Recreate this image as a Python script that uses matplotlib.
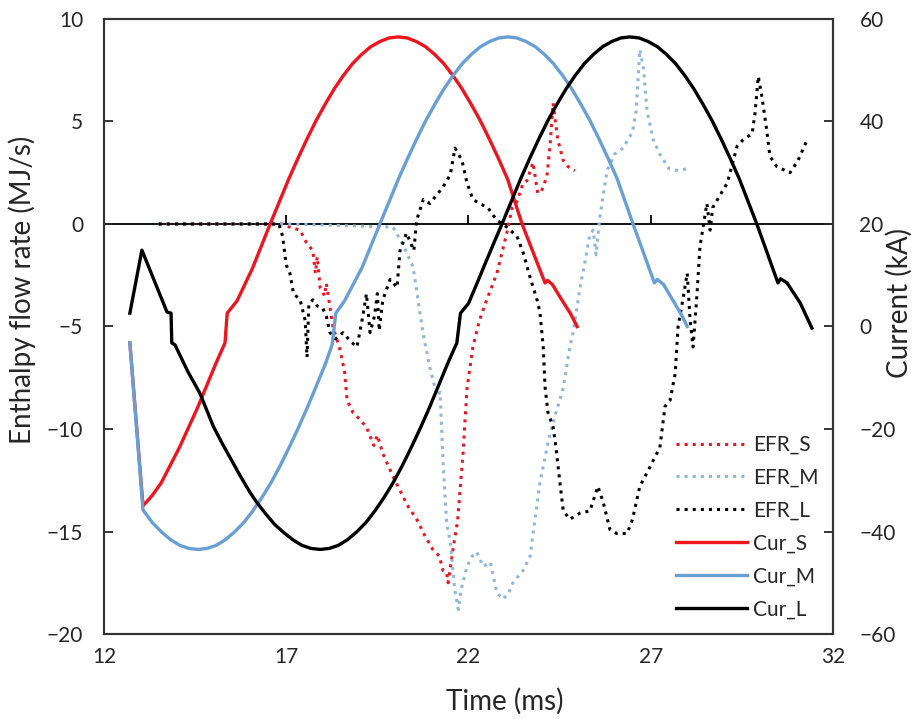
import numpy as np
import matplotlib
matplotlib.use("Agg")
import matplotlib.pyplot as plt

plt.rcParams['font.family'] = ['Lato', 'DejaVu Sans']

# current waveforms (time ms, current kA)
cur_s_t = [12.71, 13.07, 13.32, 13.57, 14.07, 14.57, 15.07, 15.32, 15.38, 15.65, 16.07, 16.57, 17.07, 17.32,
           17.57, 17.82, 18.07, 18.32, 18.57, 18.82, 19.07, 19.32, 19.57, 19.82, 20.07, 20.32, 20.57, 20.82,
           21.07, 21.32, 21.57, 21.82, 22.07, 22.32, 22.57, 22.82, 23.07, 23.47, 24.1, 24.17, 24.3, 24.55,
           24.8, 24.98]
cur_s_i = [-3.2, -35.0, -33.0, -30.5, -23.6, -15.8, -7.2, -3.2, 2.6, 5.0, 11.3, 20.2, 28.8, 32.8,
           36.6, 40.2, 43.4, 46.4, 49.0, 51.3, 53.1, 54.6, 55.6, 56.3, 56.5, 56.3, 55.6, 54.6,
           53.1, 51.3, 49.0, 46.4, 43.4, 40.2, 36.6, 32.8, 28.8, 20.0, 8.5, 9.0, 8.2, 5.3,
           2.5, 0.0]

cur_m_t = [12.71, 13.07, 13.33, 13.58, 13.83, 14.08, 14.33, 14.58, 14.83, 15.08, 15.33, 15.58, 15.83, 16.08,
           16.33, 16.58, 16.83, 17.08, 17.33, 17.58, 17.83, 18.08, 18.26, 18.36, 18.6, 19.08, 19.58, 20.08,
           20.33, 20.58, 20.83, 21.08, 21.33, 21.58, 21.83, 22.08, 22.33, 22.58, 22.83, 23.08, 23.33, 23.58,
           23.83, 24.08, 24.33, 24.58, 24.83, 25.08, 25.33, 25.58, 25.83, 26.08, 26.5, 27.1, 27.18, 27.35,
           27.6, 27.85, 28.0]
cur_m_i = [-3.2, -35.8, -38.3, -40.1, -41.6, -42.7, -43.3, -43.5, -43.3, -42.7, -41.6, -40.1, -38.3, -36.0,
           -33.4, -30.5, -27.2, -23.6, -19.8, -15.8, -11.5, -7.2, -3.5, 2.6, 5.0, 11.5, 20.2, 28.8,
           32.8, 36.6, 40.2, 43.4, 46.4, 49.0, 51.3, 53.1, 54.6, 55.6, 56.3, 56.5, 56.3, 55.6,
           54.6, 53.1, 51.3, 49.0, 46.4, 43.4, 40.2, 36.6, 32.8, 28.8, 20.3, 8.5, 9.2, 8.2,
           5.2, 2.2, 0.0]

cur_l_t = [12.71, 13.04, 13.73, 13.84, 13.86, 13.95, 14.3, 14.63, 15.0, 15.25, 15.5, 15.75, 16.0, 16.18,
           16.43, 16.68, 16.93, 17.18, 17.43, 17.68, 17.93, 18.18, 18.43, 18.68, 18.93, 19.18, 19.43, 19.68,
           19.93, 20.18, 20.43, 20.68, 20.93, 21.18, 21.43, 21.68, 21.78, 22.0, 22.25, 22.5, 22.75, 22.93,
           23.18, 23.43, 23.68, 23.93, 24.18, 24.43, 24.68, 24.93, 25.18, 25.43, 25.68, 25.93, 26.18, 26.43,
           26.68, 26.93, 27.18, 27.43, 27.68, 27.93, 28.18, 28.43, 28.68, 28.93, 29.18, 29.43, 29.91, 30.49,
           30.56, 30.74, 31.1, 31.42]
cur_l_i = [2.6, 14.9, 2.8, 2.6, -3.2, -3.6, -8.8, -13.0, -19.5, -22.9, -26.1, -29.3, -32.3, -34.2,
           -36.5, -38.6, -40.2, -41.6, -42.7, -43.3, -43.5, -43.3, -42.7, -41.6, -40.1, -38.3, -36.0, -33.4,
           -30.5, -27.2, -23.6, -19.8, -15.8, -11.5, -7.2, -3.2, 2.6, 4.5, 8.7, 13.0, 17.2, 20.2,
           24.5, 28.8, 32.8, 36.6, 40.2, 43.4, 46.4, 49.0, 51.3, 53.1, 54.6, 55.6, 56.3, 56.5,
           56.3, 55.6, 54.6, 53.1, 51.3, 49.0, 46.4, 43.4, 40.2, 36.6, 32.8, 28.8, 20.0, 8.5,
           9.3, 8.5, 4.6, -0.3]

# enthalpy flow rate (time ms, MJ/s)
efr_s_t = [13.5, 16.9, 17.0, 17.38, 17.55, 17.73, 17.8, 17.85, 17.93, 18.05, 18.1, 18.28, 18.47, 18.6,
           18.67, 18.83, 19.0, 19.2, 19.4, 19.5, 19.65, 19.9, 20.12, 20.35, 20.58, 20.8, 21.03, 21.2,
           21.3, 21.4, 21.44, 21.5, 21.58, 21.7, 21.85, 21.96, 22.12, 22.3, 22.5, 22.78, 23.05, 23.2,
           23.33, 23.5, 23.6, 23.77, 23.9, 24.0, 24.15, 24.24, 24.32, 24.37, 24.45, 24.6, 24.73, 24.92]
efr_s_q = [0.0, 0.0, -0.1, -0.3, -0.9, -1.3, -2.4, -1.6, -3.1, -3.5, -2.9, -5.0, -6.1, -7.2,
           -8.6, -9.2, -9.5, -9.9, -10.8, -10.3, -11.2, -12.2, -13.0, -13.8, -14.4, -15.2, -15.9, -16.2,
           -16.9, -17.0, -17.5, -16.8, -15.8, -14.5, -11.2, -8.0, -6.0, -4.7, -3.7, -2.4, -0.44, 0.8,
           1.1, 2.0, 2.1, 3.0, 1.5, 1.6, 2.3, 3.9, 5.9, 5.2, 4.1, 3.1, 2.8, 2.6]

efr_m_t = [13.5, 17.0, 19.93, 20.2, 20.48, 20.75, 20.94, 21.14, 21.22, 21.3, 21.4, 21.5, 21.62, 21.72,
           21.8, 21.96, 22.1, 22.23, 22.4, 22.6, 22.78, 22.95, 23.1, 23.22, 23.5, 23.69, 23.77, 23.96,
           24.2, 24.4, 24.6, 24.78, 24.87, 25.06, 25.2, 25.33, 25.42, 25.5, 25.6, 25.8, 26.0, 26.24,
           26.5, 26.6, 26.7, 26.8, 26.9, 27.07, 27.25, 27.5, 27.75, 28.0]
efr_m_q = [0.0, 0.0, -0.15, -1.0, -2.1, -5.3, -7.0, -8.4, -8.2, -11.5, -14.6, -15.5, -17.8, -18.8,
           -17.8, -16.7, -16.2, -16.0, -16.7, -16.5, -18.0, -18.3, -18.0, -17.5, -16.9, -16.2, -15.1, -12.6,
           -10.5, -9.2, -8.0, -6.0, -5.3, -3.1, -1.8, -0.5, -0.3, -1.5, 0.3, 2.6, 3.4, 3.7,
           4.5, 5.5, 8.5, 7.6, 5.5, 4.1, 3.4, 2.7, 2.6, 2.7]

efr_l_t = [13.5, 16.8, 16.9, 17.0, 17.1, 17.2, 17.38, 17.45, 17.52, 17.57, 17.62, 17.73, 17.85, 18.0,
           18.1, 18.2, 18.35, 18.56, 18.75, 18.94, 19.1, 19.2, 19.3, 19.42, 19.5, 19.55, 19.65, 19.85,
           20.04, 20.12, 20.3, 20.5, 20.58, 20.76, 20.94, 21.3, 21.5, 21.63, 21.82, 21.96, 22.12, 22.3,
           22.53, 22.77, 23.05, 23.33, 23.5, 23.69, 23.88, 23.96, 24.05, 24.1, 24.18, 24.32, 24.4, 24.5,
           24.6, 24.78, 25.06, 25.33, 25.55, 25.7, 25.88, 26.07, 26.35, 26.5, 26.7, 26.98, 27.25, 27.39,
           27.53, 27.67, 27.75, 27.88, 28.0, 28.08, 28.16, 28.27, 28.35, 28.54, 28.63, 28.7, 28.9, 29.1,
           29.37, 29.53, 29.78, 29.86, 29.95, 30.05, 30.18, 30.27, 30.46, 30.82, 31.04, 31.29]
efr_l_q = [0.0, 0.0, -0.6, -2.0, -2.4, -3.4, -3.7, -4.2, -4.7, -6.5, -3.9, -3.7, -4.0, -4.1,
           -4.5, -5.3, -5.6, -5.3, -5.7, -6.0, -4.5, -3.4, -5.3, -4.5, -3.4, -5.2, -3.7, -2.7,
           -3.1, -1.3, -0.44, -1.3, 0.2, 1.2, 1.0, 1.8, 2.4, 3.7, 3.1, 2.0, 1.2, 1.0,
           0.8, 0.2, -0.15, -0.6, -1.4, -2.6, -3.7, -4.3, -6.0, -7.95, -9.2, -9.9, -10.9, -12.5,
           -14.0, -14.4, -14.1, -14.0, -12.8, -13.6, -14.9, -15.1, -15.1, -14.4, -12.8, -11.85, -10.9, -8.9,
           -8.6, -7.3, -5.0, -3.7, -2.4, -4.7, -6.0, -3.4, -1.1, 1.0, -0.3, 0.8, 1.4, 2.0,
           3.8, 4.1, 4.4, 5.4, 7.2, 6.2, 4.6, 3.3, 2.8, 2.5, 3.1, 4.1]

xticks = [12, 17, 22, 27, 32]
yticks_left = [-20, -15, -10, -5, 0, 5, 10]
yticks_right = [-60, -40, -20, 0, 20, 40, 60]

red = '#f0141e'
blue = '#6a9fd4'
blue_dot = '#8eb6e0'
txt = '#262626'

fig = plt.figure(figsize=(9.17, 7.19), dpi=100)
ax = fig.add_axes([0.1134, 0.1182, 0.795, 0.8554])
ax2 = ax.twinx()

l1, = ax.plot(efr_s_t, efr_s_q, ':', color=red, lw=2.2, label='EFR_S')
l2, = ax.plot(efr_m_t, efr_m_q, ':', color=blue_dot, lw=2.2, label='EFR_M')
l3, = ax.plot(efr_l_t, efr_l_q, ':', color='black', lw=2.2, label='EFR_L')
l4, = ax2.plot(cur_s_t, cur_s_i, '-', color=red, lw=2.4, label='Cur_S')
l5, = ax2.plot(cur_m_t, cur_m_i, '-', color=blue, lw=2.4, label='Cur_M')
l6, = ax2.plot(cur_l_t, cur_l_i, '-', color='black', lw=2.4, label='Cur_L')

# horizontal axis line at zero with its tick marks
ax.axhline(0, color='black', lw=1.3, zorder=1)
ax.vlines(xticks[1:-1], 0, 0.45, color='black', lw=1.3)

ax.set_xlim(12, 32)
ax.set_ylim(-20, 10)
ax2.set_ylim(-60, 60)
ax.set_xticks(xticks)
ax.set_yticks(yticks_left)
ax2.set_yticks(yticks_right)

ax.tick_params(axis='x', length=0, pad=9, labelsize=15, colors=txt)
ax.tick_params(axis='y', direction='in', length=6.5, width=1.3, pad=15, labelsize=15, colors=txt)
ax2.tick_params(axis='y', direction='in', length=6.5, width=1.3, pad=19, labelsize=15, colors=txt)
for a in (ax, ax2):
    for s in a.spines.values():
        s.set_linewidth(1.5)
        s.set_color('#333333')

ax.set_xlabel('Time (ms)', fontsize=20, color=txt)
ax.set_ylabel('Enthalpy flow rate (MJ/s)', fontsize=20, color=txt)
ax2.set_ylabel('Current (kA)', fontsize=20, color=txt, rotation=90)
ax.xaxis.set_label_coords(0.55, -0.088)
ax.yaxis.set_label_coords(-0.093, 0.56)
ax2.yaxis.set_label_coords(1.072, 0.538)

ax2.legend(handles=[l1, l2, l3, l4, l5, l6], loc='lower right', frameon=False, fontsize=15,
           handlelength=3.4, handletextpad=0.3, labelspacing=0.62, borderaxespad=0.3,
           labelcolor=txt)

fig.savefig('out.png', dpi=100)
